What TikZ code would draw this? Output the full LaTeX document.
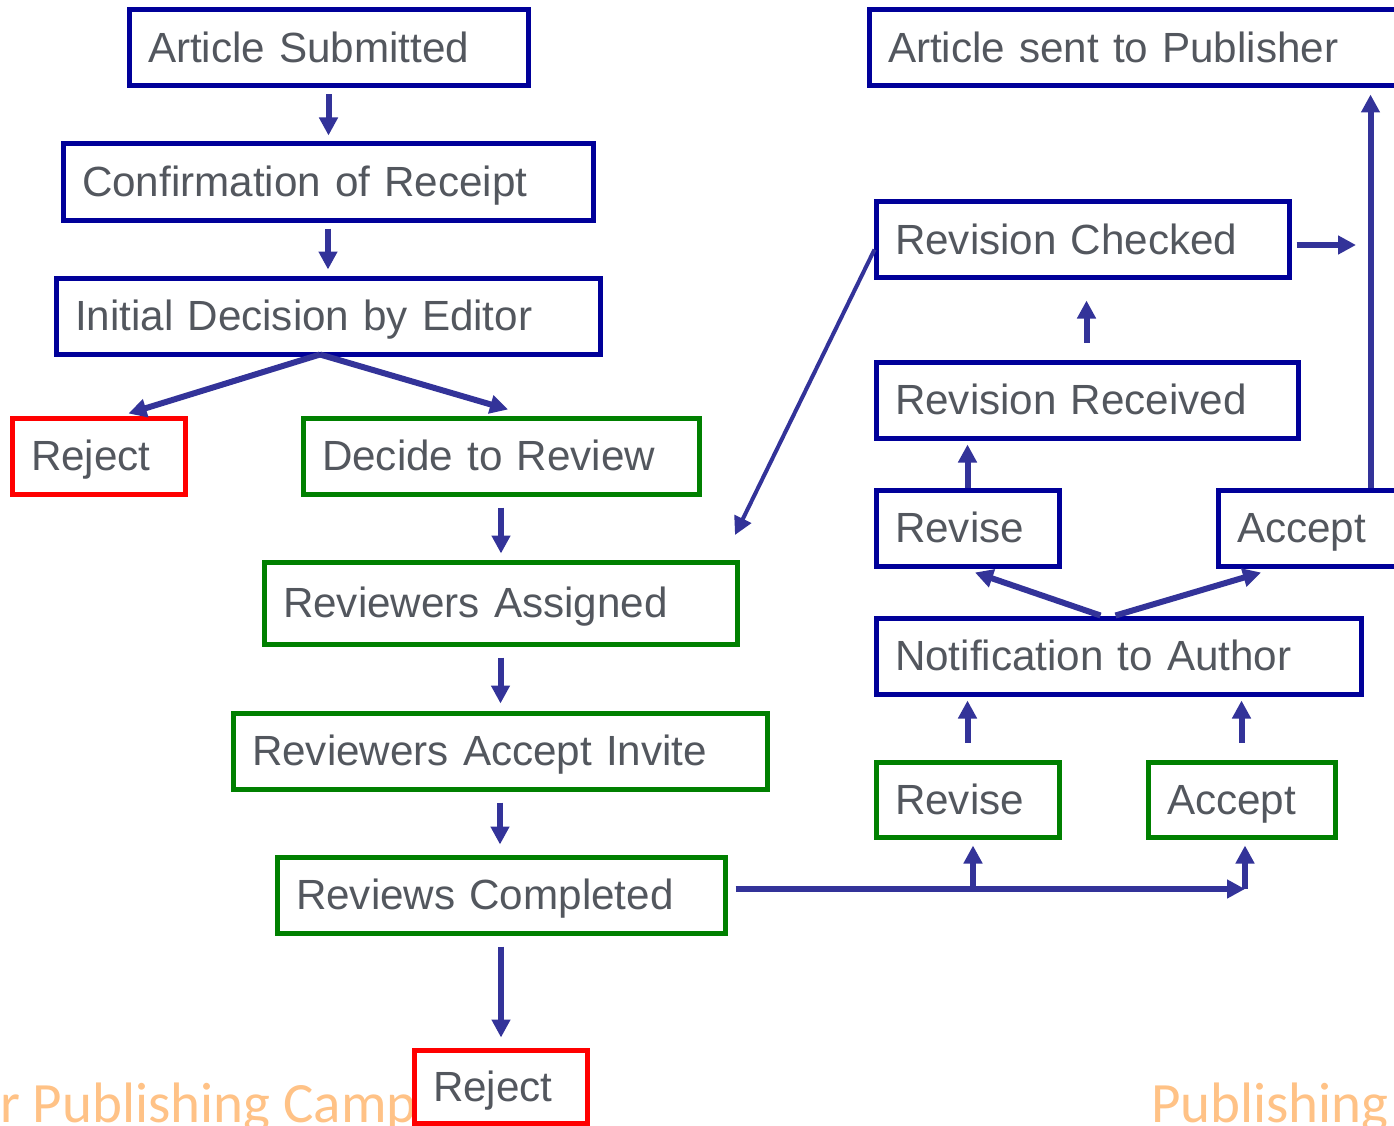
\documentclass[tikz,border=0pt]{standalone}
\usepackage{fontspec}
\setmainfont{Liberation Sans}
\newfontfamily\campusfont{Carlito}
\usetikzlibrary{arrows.meta,calc}

\definecolor{boxblue}{HTML}{000099}
\definecolor{boxgreen}{HTML}{008000}
\definecolor{boxred}{HTML}{FF0000}
\definecolor{arrowblue}{HTML}{333399}
\definecolor{labelgray}{HTML}{53575E}
\definecolor{campus}{HTML}{FFC286}

% one box: name, style, left, top, right, bottom, label
\newcommand\flowbox[7]{%
  \pgfmathsetmacro\fbW{#5-#3}%
  \pgfmathsetmacro\fbH{#6-#4}%
  \pgfmathsetmacro\fbT{#5-#3-38}%
  \node[#2, minimum width=\fbW pt, minimum height=\fbH pt, text width=\fbT pt]
    (#1) at ({(#3+#5)/2},{(#4+#6)/2}) {#7};}

\tikzset{
  bx/.style={rectangle, line width=5pt, fill=white, inner xsep=19pt, inner ysep=0pt,
    align=left, text=labelgray, text height=37pt, text depth=8pt,
    font=\fontsize{42.2}{48}\selectfont},
  bxblue/.style={bx, draw=boxblue},
  bxgreen/.style={bx, draw=boxgreen},
  bxred/.style={bx, draw=boxred},
  conn/.style={draw=arrowblue, line width=6pt, -{Triangle[length=18pt,width=18pt]},
    shorten >=6pt, shorten <=6pt},
  campustext/.style={text=campus, inner sep=0pt, anchor=base west,
    font=\campusfont\fontsize{57}{60}\selectfont},
}

\begin{document}
\begin{tikzpicture}[x=1pt,y=-1pt]
\useasboundingbox (0,0) rectangle (1394,1126);
\clip (0,0) rectangle (1394,1126);
\fill[white] (0,0) rectangle (1394,1126);

% footer lettering behind the boxes
\node[campustext] (campusL) at (0,1122) {r Publishing Camp};
\node[campustext] (campusR) at (1151,1122) {Publishing};

% left column
\flowbox{as}{bxblue}{129}{10}{528}{86}{Article Submitted}
\flowbox{cr}{bxblue}{63}{144}{593}{220}{Confirmation of Receipt}
\flowbox{ide}{bxblue}{56}{278}{600}{354}{Initial Decision by Editor}
\flowbox{rj1}{bxred}{12}{418}{185}{494}{Reject}
\flowbox{dr}{bxgreen}{303}{418}{699}{494}{Decide to Review}
\flowbox{ra}{bxgreen}{264}{562}{737}{644}{Reviewers Assigned}
\flowbox{ai}{bxgreen}{233}{713}{767}{789}{Reviewers Accept Invite}
\flowbox{rvc}{bxgreen}{277}{857}{725}{933}{Reviews Completed}
\flowbox{rj2}{bxred}{414}{1050}{587}{1123}{Reject}

% right column
\flowbox{asp}{bxblue}{869}{10}{1402}{86}{Article sent to Publisher}
\flowbox{rc}{bxblue}{876}{202}{1289}{277}{Revision Checked}
\flowbox{rr}{bxblue}{876}{362}{1298}{438}{Revision Received}
\flowbox{rb}{bxblue}{876}{490}{1059}{566}{Revise}
\flowbox{ab}{bxblue}{1218}{490}{1402}{566}{Accept}
\flowbox{nta}{bxblue}{876}{618}{1361}{694}{Notification to Author}
\flowbox{rg}{bxgreen}{876}{762}{1059}{837}{Revise}
\flowbox{ag}{bxgreen}{1148}{762}{1335}{837}{Accept}

% free ends and junctions
\coordinate (split) at ($(ide.south)+(-8,-2)$);
\coordinate (back) at (735,535);
\coordinate (rcout) at (1356,245);
\coordinate (j1) at (973,889);
\coordinate (j2) at (1245,889);
\coordinate (up) at ($(ab.north west)+(155,0)$);

% left column connectors
\draw[conn] (as.south) -- (as.south |- cr.north);
\draw[conn] (cr.south) -- (cr.south |- ide.north);
\draw[conn, shorten <=0pt, shorten >=0pt] (split) -- ($(rj1.north)+(30,-2)$);
\draw[conn, shorten <=0pt, shorten >=0pt] (split) -- ($(dr.north)+(7,-6)$);
\draw[conn, shorten <=11pt] (dr.south) -- (dr.south |- ra.north);
\draw[conn, shorten <=11pt, shorten >=7pt] (ra.south) -- (ra.south |- ai.north);
\draw[conn, shorten <=11pt, shorten >=10pt] (ai.south) -- (ai.south |- rvc.north);
\draw[conn, shorten <=11pt, shorten >=10pt] (rvc.south) -- (rvc.south |- rj2.north);

% reviews completed to the two outcomes
\draw[conn, shorten <=8pt, shorten >=0pt] (rvc.east |- j2) -- (j2);
\draw[conn, shorten <=0pt] (j1) -- (j1 |- rg.south);
\draw[conn, shorten <=0pt] (j2) -- (j2 |- ag.south);

% outcomes to notification
\draw[conn, shorten <=17pt, shorten >=4pt] (rg.north) -- (rg.north |- nta.south);
\draw[conn, shorten <=17pt, shorten >=4pt] (ag.north) -- (ag.north |- nta.south);
\draw[conn, shorten <=0pt, shorten >=0pt] ($(nta.north)+(-18,0)$) -- ($(rb.south)+(7.5,4)$);
\draw[conn, shorten <=0pt, shorten >=0pt] ($(nta.north)+(-3,0)$) -- ($(ab.south)+(-49,4)$);

% revision loop
\draw[conn, shorten <=0pt, shorten >=4pt] (rb.north) -- (rb.north |- rr.south);
\draw[conn, shorten <=17pt, shorten >=21pt] ($(rr.north)+(-0.5,0)$) -- ($(rr.north |- rc.south)+(-0.5,0)$);
\draw[conn, shorten <=5pt, shorten >=0pt] (rc.east |- rcout) -- (rcout);
\draw[conn, line width=4pt, shorten <=0pt, shorten >=0pt] ($(rc.west)+(1,10)$) -- (back);

% accepted article goes to the publisher
\draw[conn, shorten <=0pt] (up) -- (up |- asp.south);
\end{tikzpicture}
\end{document}
